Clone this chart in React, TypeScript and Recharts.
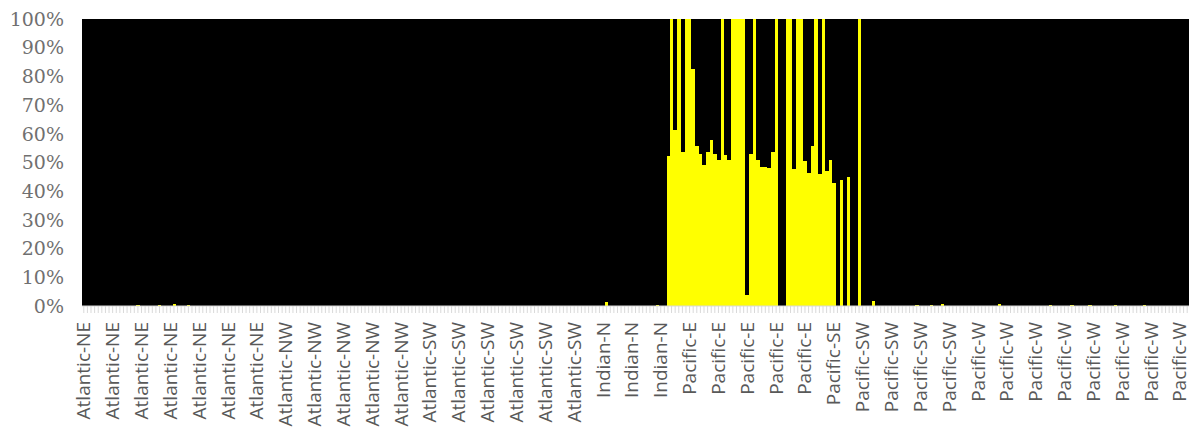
import React from "react";
import { BarChart, Bar, XAxis, YAxis, CartesianGrid } from "recharts";

// Share (%) of the yellow series per sample, grouped by region (in order)
const atlanticNE = [
  0, 0, 0, 0, 0, 0, 0, 0, 0, 0,
  0, 0, 0, 0, 0, 0.3, 0, 0, 0, 0,
  0, 0.3, 0, 0, 0, 0.8, 0, 0, 0, 0.3,
  0, 0, 0, 0, 0, 0, 0, 0, 0, 0,
  0, 0, 0, 0, 0, 0, 0, 0, 0, 0,
  0, 0, 0, 0, 0, 0,
];
const atlanticNW = [
  0, 0, 0, 0, 0, 0, 0, 0, 0, 0,
  0, 0, 0, 0, 0, 0, 0, 0, 0, 0,
  0, 0, 0, 0, 0, 0, 0, 0, 0, 0,
  0, 0, 0, 0, 0, 0, 0, 0, 0, 0,
];
const atlanticSW = [
  0, 0, 0, 0, 0, 0, 0, 0, 0, 0,
  0, 0, 0, 0, 0, 0, 0, 0, 0, 0,
  0, 0, 0, 0, 0, 0, 0, 0, 0, 0,
  0, 0, 0, 0, 0, 0, 0, 0, 0, 0,
  0, 0, 0, 0, 0, 0, 0, 0,
];
const indianN = [
  0, 1.5, 0, 0, 0, 0, 0, 0, 0, 0,
  0, 0, 0, 0, 0, 0.3, 0, 0, 52.3, 100,
];
const pacificE = [
  61.4, 100, 53.6, 100, 100, 82.7, 55.6, 53, 49, 53.5,
  58, 53, 51, 100, 52.7, 51, 100, 100, 100, 100,
  4, 53, 100, 51, 48.4, 48.4, 48, 53.5, 100, 0,
  0, 100, 100, 47.7, 100, 100, 50.6, 46.5, 55.6, 100,
  46, 100, 47.2, 50.8,
];
const pacificSE = [43, 0, 43.8, 0, 45, 0];
const pacificSW = [
  0, 100, 0, 0, 0, 1.6, 0, 0, 0, 0,
  0, 0, 0, 0, 0, 0, 0, 0.3, 0, 0,
  0, 0.3, 0, 0, 0.8, 0, 0, 0, 0, 0,
  0, 0, 0, 0,
];
const pacificW = [
  0, 0, 0, 0, 0, 0, 0.8, 0, 0, 0,
  0, 0, 0, 0, 0, 0, 0, 0, 0, 0,
  0.3, 0, 0, 0, 0, 0, 0.3, 0, 0, 0,
  0, 0.3, 0, 0, 0, 0, 0, 0, 0.3, 0,
  0, 0, 0, 0, 0, 0, 0.3, 0, 0, 0,
  0, 0, 0, 0, 0, 0, 0, 0, 0,
];

const regionNames = [
  "Atlantic-NE",
  "Atlantic-NW",
  "Atlantic-SW",
  "Indian-N",
  "Pacific-E",
  "Pacific-SE",
  "Pacific-SW",
  "Pacific-W",
];
const regionValues = [
  atlanticNE,
  atlanticNW,
  atlanticSW,
  indianN,
  pacificE,
  pacificSE,
  pacificSW,
  pacificW,
];

const yTicks = [0, 10, 20, 30, 40, 50, 60, 70, 80, 90, 100];
const LABEL_EVERY = 8;

const data: { name: string; yellow: number; black: number }[] = [];
regionNames.forEach((name, r) => {
  regionValues[r].forEach((v) => {
    data.push({ name, yellow: v, black: 100 - v });
  });
});

const XTick = (props: any) => {
  const { x, y, payload, index } = props;
  const i = payload && typeof payload.index === "number" ? payload.index : index;
  if (i % LABEL_EVERY !== 0) return <g />;
  return (
    <g transform={`translate(${x},${y})`}>
      <text
        transform="rotate(-90)"
        x={0}
        y={0}
        dy="0.34em"
        textAnchor="end"
        fill="#595959"
        fontFamily="'Open Sans', 'Noto Sans', sans-serif"
        fontSize={19}
      >
        {payload.value}
      </text>
    </g>
  );
};

export default function App() {
  return (
    <div style={{ position: "absolute", left: 0, top: 0, width: 1191, height: 430, background: "#fff" }}>
      <BarChart
        width={1191}
        height={430}
        data={data}
        barCategoryGap={0}
        barGap={0}
        margin={{ top: 19, right: 2, left: 0, bottom: 0 }}
      >
        <CartesianGrid vertical={false} horizontal={false} fill="#000000" />
        <XAxis
          dataKey="name"
          interval={0}
          tick={<XTick />}
          tickSize={7}
          tickMargin={9}
          height={124}
          tickLine={{ stroke: "#d9d9d9" }}
          axisLine={{ stroke: "#d9d9d9" }}
        />
        <YAxis
          domain={[0, 100]}
          ticks={yTicks}
          width={82}
          tickFormatter={(v: number) => `${v}%`}
          tickLine={false}
          axisLine={false}
          tickSize={10}
          tickMargin={8}
          tick={{ fill: "#707070", fontSize: 19, fontFamily: "'DejaVu Serif', serif" }}
        />
        <Bar dataKey="yellow" stackId="a" fill="#FFFF00" shapeRendering="crispEdges" isAnimationActive={false} />
        <Bar dataKey="black" stackId="a" fill="#000000" shapeRendering="crispEdges" isAnimationActive={false} />
      </BarChart>
    </div>
  );
}
